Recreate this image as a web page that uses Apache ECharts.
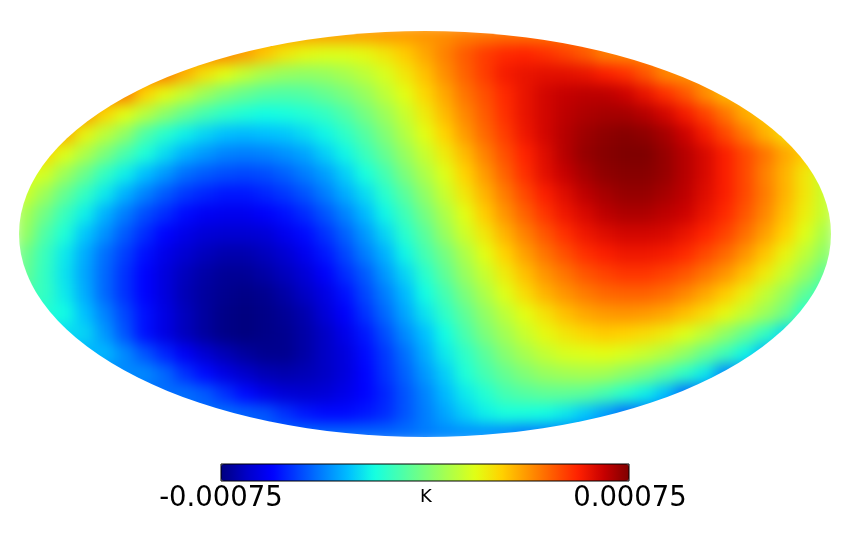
<!DOCTYPE html>
<html lang="en">
<head>
    <meta charset="UTF-8">
    <title>Map</title>
    <script src="https://cdn.jsdelivr.net/npm/echarts@6/dist/echarts.min.js"></script>
    <style>
        *{
            margin: 0;
            padding: 0;
        }
        html,body{
            width: 850px;
            height: 540px;
            overflow: hidden;
            background: #fff;
        }
        /* ellipse outline of the projection */
        .mask{
            position: absolute;
            left: 0;
            top: 0;
            width: 850px;
            height: 540px;
            clip-path: ellipse(406px 203px at 425px 234px);
        }
        .map{
            width: 850px;
            height: 540px;
            filter: blur(7px);
        }
        .bar{
            position: absolute;
            left: 0;
            top: 0;
            width: 850px;
            height: 540px;
        }
    </style>
</head>
<body>
<div class="mask"><div class="map"></div></div>
<div class="bar"></div>
<script>
    // map samples, unit 1e-5 K, one line per row from the top
    const mapRows = [
        [36,36,36,36,36,36,36,36,36,36,36,36,36,36,36,36,36,36,37,37,38,39,41,42,43,43,43,43,43,43,43,43,43,43,43,43,43,43,43,43,43],
        [40,40,40,40,40,40,40,40,40,40,40,36,30,24,20,18,18,20,24,29,35,41,47,52,55,56,54,51,47,41,40,40,40,40,40,40,40,40,40,40,40],
        [42,42,42,42,42,42,42,42,33,25,19,13,8,5,4,5,8,12,17,24,31,39,46,52,58,60,61,61,60,57,54,48,40,38,38,38,38,38,38,38,38],
        [42,42,42,42,42,42,28,20,13,6,0,-4,-7,-8,-7,-4,0,5,12,19,27,35,43,49,55,60,64,66,67,67,65,60,54,48,39,32,32,32,32,32,32],
        [38,38,38,38,27,19,11,3,-4,-10,-14,-17,-19,-18,-16,-13,-8,-1,6,14,23,32,40,47,54,60,64,67,69,70,70,68,64,58,51,43,34,30,30,30,30],
        [34,34,34,21,12,4,-8,-15,-21,-25,-28,-29,-28,-27,-24,-20,-14,-7,1,10,19,28,37,45,52,59,64,68,71,73,74,73,70,65,58,50,42,33,26,26,26],
        [27,27,18,9,0,-9,-17,-24,-30,-34,-37,-38,-37,-35,-32,-26,-20,-12,-4,5,14,23,32,41,49,56,62,68,72,74,75,75,72,68,63,57,50,43,35,29,27],
        [19,16,6,-3,-13,-21,-28,-34,-40,-43,-45,-46,-45,-42,-38,-33,-26,-18,-10,0,9,18,28,37,46,54,61,66,70,73,74,74,72,68,63,57,50,41,33,24,14],
        [15,6,-4,-13,-22,-30,-37,-43,-48,-51,-53,-53,-51,-48,-44,-38,-31,-24,-15,-6,4,14,24,33,42,50,57,62,67,70,72,72,70,67,62,57,50,42,33,24,14],
        [8,-2,-12,-21,-30,-38,-45,-50,-55,-58,-59,-59,-57,-54,-50,-44,-37,-29,-20,-11,-1,9,19,29,38,46,53,59,63,67,69,69,67,65,60,55,48,40,31,22,13],
        [5,-8,-17,-27,-35,-43,-50,-56,-60,-63,-64,-64,-63,-59,-55,-49,-42,-34,-25,-15,-6,5,15,24,33,41,48,54,59,62,64,64,63,60,56,51,44,36,28,18,8],
        [-2,-12,-22,-31,-40,-47,-54,-60,-64,-67,-69,-69,-67,-64,-59,-53,-46,-38,-30,-20,-10,-1,9,19,28,36,43,49,54,57,59,59,58,55,50,45,38,30,21,12,3],
        [-4,-13,-23,-32,-41,-49,-56,-62,-67,-70,-72,-72,-70,-67,-63,-57,-50,-43,-34,-25,-15,-5,5,14,23,31,38,43,48,51,53,53,51,48,43,38,31,23,14,5,-5],
        [-9,-13,-22,-31,-41,-49,-56,-62,-68,-71,-73,-74,-73,-70,-66,-61,-54,-46,-38,-29,-19,-10,0,9,18,26,33,38,42,45,46,46,44,40,35,29,22,13,5,-5,-14],
        [-16,-16,-19,-28,-37,-46,-54,-61,-67,-71,-74,-75,-74,-72,-69,-63,-57,-49,-41,-32,-23,-14,-5,4,12,19,25,31,35,37,38,37,35,31,26,20,13,6,-2,-16,-16],
        [-24,-24,-24,-25,-34,-44,-54,-61,-67,-71,-74,-75,-74,-73,-70,-66,-60,-53,-45,-36,-28,-19,-9,0,7,14,20,24,27,29,28,26,23,18,12,4,-4,-13,-24,-24,-24],
        [-30,-30,-30,-30,-29,-36,-44,-51,-58,-64,-68,-71,-73,-73,-70,-66,-62,-55,-48,-40,-31,-22,-14,-6,2,8,13,17,18,19,17,14,10,4,-4,-11,-20,-30,-30,-30,-30],
        [-36,-36,-36,-36,-36,-36,-36,-41,-49,-55,-61,-65,-68,-69,-68,-66,-62,-56,-49,-42,-34,-26,-17,-10,-4,1,5,7,8,7,3,-1,-7,-14,-22,-36,-36,-36,-36,-36,-36],
        [-40,-40,-40,-40,-40,-40,-40,-40,-40,-43,-49,-55,-60,-63,-64,-63,-60,-56,-51,-44,-37,-29,-22,-16,-10,-7,-5,-5,-6,-10,-15,-21,-28,-40,-40,-40,-40,-40,-40,-40,-40],
        [-40,-40,-40,-40,-40,-40,-40,-40,-40,-40,-40,-42,-44,-49,-53,-55,-55,-53,-50,-44,-38,-32,-26,-21,-18,-18,-19,-22,-27,-33,-40,-40,-40,-40,-40,-40,-40,-40,-40,-40,-40],
        [-41,-41,-41,-41,-41,-41,-41,-41,-41,-41,-41,-41,-41,-41,-41,-41,-41,-41,-41,-40,-38,-36,-35,-35,-36,-38,-38,-38,-38,-38,-38,-38,-38,-38,-38,-38,-38,-38,-38,-38,-38]
    ];
    const scaleMin = -75;
    const scaleMax = 75;
    const scaleLabels = ['-0.00075', '0.00075'];
    const unitLabel = 'K';
    const jet = ['#00007f','#0000c8','#0000ff','#0040ff','#0080ff','#00bfff','#14ffe2','#47ffaf','#7bff7b',
        '#afff47','#e2ff14','#ffd200','#ff9700','#ff5c00','#ff2100','#c80000','#7f0000'];

    window.onload=function () {
        let heat=[];
        mapRows.forEach((row,j)=>{
            row.forEach((v,i)=>heat.push([i,j,v]))
        })

        let mapChart=echarts.init(document.querySelector('.map'))
        mapChart.setOption({
            animation:false,
            grid:{left:15,top:24,width:820,height:420},
            xAxis:{type:'category',show:false,data:mapRows[0].map((v,i)=>i)},
            yAxis:{type:'category',show:false,inverse:true,data:mapRows.map((v,j)=>j)},
            visualMap:{show:false,min:scaleMin,max:scaleMax,dimension:2,inRange:{color:jet}},
            series:[{type:'heatmap',data:heat,progressive:0}]
        })

        let barChart=echarts.init(document.querySelector('.bar'))
        barChart.setOption({
            animation:false,
            visualMap:{
                type:'continuous',
                orient:'horizontal',
                left:221,
                top:464,
                padding:0,
                itemWidth:17,
                itemHeight:408,
                min:scaleMin,
                max:scaleMax,
                text:null,
                showLabel:false,
                hoverLink:false,
                inRange:{color:jet}
            },
            graphic:[
                {type:'rect',z:100,shape:{x:221,y:464,width:408,height:17},style:{fill:'none',stroke:'#000',lineWidth:1}},
                {type:'text',x:221,y:499,style:{text:scaleLabels[0],font:'27.5px "DejaVu Sans"',fill:'#000',align:'center',verticalAlign:'middle'}},
                {type:'text',x:630,y:499,style:{text:scaleLabels[1],font:'27.5px "DejaVu Sans"',fill:'#000',align:'center',verticalAlign:'middle'}},
                {type:'text',x:426,y:497,style:{text:unitLabel,font:'18px "DejaVu Sans"',fill:'#000',align:'center',verticalAlign:'middle'}}
            ]
        })
    }
</script>
</body>
</html>
